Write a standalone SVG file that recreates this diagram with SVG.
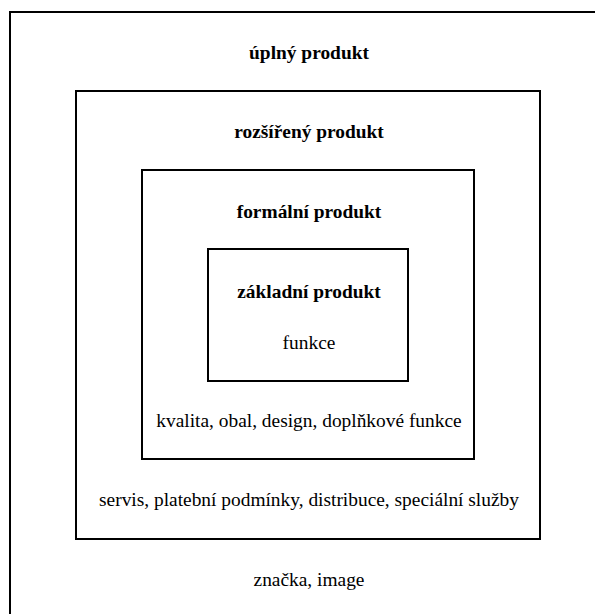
<svg xmlns="http://www.w3.org/2000/svg" width="595" height="614" viewBox="0 0 595 614">
<style>
.box{fill:none;stroke:#000;stroke-width:2}
.t{font-size:19.4px;text-anchor:middle;fill:#000}
.b{font-weight:bold}
</style>
<rect width="595" height="614" fill="#fff"/>
<g font-family="Liberation Serif, Times New Roman, serif">
<g id="uplny">
<rect class="box" x="10" y="12" width="600" height="620"/>
<text class="t b" x="309" y="59">úplný produkt</text>
<text class="t" x="309" y="586">značka, image</text>
</g>
<g id="rozsireny">
<rect class="box" x="76" y="91" width="464" height="448"/>
<text class="t b" x="309" y="138">rozšířený produkt</text>
<text class="t" x="309" y="506">servis, platební podmínky, distribuce, speciální služby</text>
</g>
<g id="formalni">
<rect class="box" x="142" y="170" width="332" height="289"/>
<text class="t b" x="309" y="218">formální produkt</text>
<text class="t" x="309" y="427">kvalita, obal, design, doplňkové funkce</text>
</g>
<g id="zakladni">
<rect class="box" x="208" y="249" width="200" height="132"/>
<text class="t b" x="309" y="298">základní produkt</text>
<text class="t" x="309" y="349">funkce</text>
</g>
</g>
<g id="connectors"/>
</svg>
